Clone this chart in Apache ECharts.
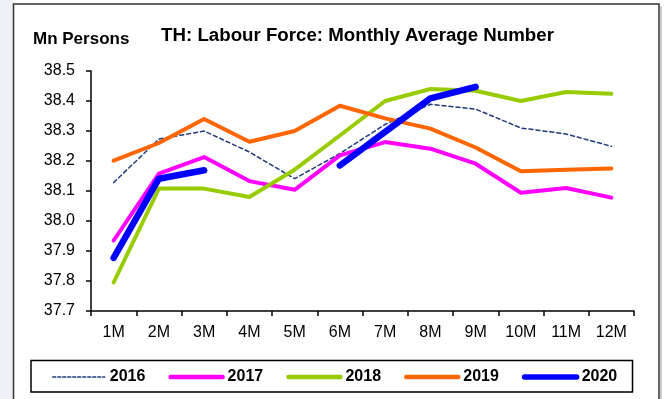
<!DOCTYPE html>
<html>
<head>
<meta charset="utf-8">
<script src="https://cdn.jsdelivr.net/npm/echarts@6/dist/echarts.min.js"></script>
<style>
  html, body { margin: 0; padding: 0; background: #ffffff; }
  #chart { width: 665px; height: 399px; }
</style>
</head>
<body>
<div id="chart"></div>
<script>
// Month categories along the x axis
const months = ['1M', '2M', '3M', '4M', '5M', '6M', '7M', '8M', '9M', '10M', '11M', '12M'];

// Labour force, million persons, by year
const y2016 = [38.128, 38.273, 38.300, 38.230, 38.141, 38.225, 38.322, 38.389, 38.373, 38.310, 38.290, 38.249];
const y2017 = [37.935, 38.158, 38.213, 38.133, 38.104, 38.219, 38.263, 38.241, 38.191, 38.094, 38.110, 38.078];
const y2018 = [37.795, 38.108, 38.108, 38.080, 38.171, 38.285, 38.400, 38.440, 38.434, 38.400, 38.430, 38.424];
const y2019 = [38.201, 38.260, 38.340, 38.264, 38.300, 38.384, 38.342, 38.308, 38.245, 38.166, 38.171, 38.175];
const y2020 = [37.877, 38.141, 38.169, null, null, 38.185, 38.297, 38.409, 38.447, null, null, null];

// Value axis range and step
const yMin = 37.7;
const yMax = 38.5;
const yStep = 0.1;

const FONT = 'Liberation Sans, Arial, sans-serif';

const styles = {
  '2016': { color: '#1F3A78', width: 1.5, dashed: true, legendWidth: 1.5 },
  '2017': { color: '#FF00FF', width: 4, dashed: false, legendWidth: 4.5 },
  '2018': { color: '#99CC00', width: 4, dashed: false, legendWidth: 4.5 },
  '2019': { color: '#FF6600', width: 4, dashed: false, legendWidth: 4.5 },
  '2020': { color: '#0000FF', width: 6.5, dashed: false, legendWidth: 5.5 }
};

function lineStyleFor(name, width) {
  const s = styles[name];
  return {
    color: s.color,
    width: width,
    type: s.dashed ? [4, 3] : 'solid',
    cap: 'round',
    join: 'round'
  };
}

function lineSeries(name, data) {
  return {
    name: name,
    type: 'line',
    data: data,
    symbol: 'none',
    connectNulls: false,
    lineStyle: lineStyleFor(name, styles[name].width),
    itemStyle: { color: styles[name].color },
    emphasis: { disabled: true },
    animation: false
  };
}

const years = ['2016', '2017', '2018', '2019', '2020'];

const chart = echarts.init(document.getElementById('chart'), null, { renderer: 'canvas' });

chart.setOption({
  animation: false,
  backgroundColor: '#ffffff',
  graphic: [
    // pale strip down the left edge
    { type: 'rect', z: -10, shape: { x: 0, y: 0, width: 13, height: 399 }, style: { fill: '#EFEFF7' } },
    // frame around the chart
    { type: 'rect', z: -5, shape: { x: 13.5, y: 4, width: 645.5, height: 420 },
      style: { fill: '#ffffff', stroke: '#333333', lineWidth: 1.5 } },
    { type: 'line', z: -4, shape: { x1: 661, y1: 6, x2: 661, y2: 399 },
      style: { stroke: '#BBBBBB', lineWidth: 1.5 } },
    // legend box
    { type: 'rect', z: 1, shape: { x: 31, y: 360.5, width: 601.5, height: 31.5 },
      style: { fill: 'none', stroke: '#000000', lineWidth: 1.5 } },
    // unit label
    { type: 'text', left: 33, top: 31,
      style: { text: 'Mn Persons', font: 'bold 17px ' + FONT, fill: '#000000' } }
  ],
  title: {
    text: 'TH: Labour Force: Monthly Average Number',
    left: 352.5,
    textAlign: 'center',
    top: 21,
    textStyle: { fontFamily: FONT, fontSize: 18.7, fontWeight: 'bold', color: '#000000' }
  },
  legend: {
    left: 52,
    top: 369,
    padding: 0,
    itemWidth: 52,
    itemHeight: 14,
    itemGap: 23,
    selectedMode: false,
    itemStyle: { opacity: 0, borderWidth: 0 },
    textStyle: { fontFamily: FONT, fontSize: 16, fontWeight: 'bold', color: '#000000' },
    data: years.map(function (y) {
      const ls = lineStyleFor(y, styles[y].legendWidth);
      if (styles[y].dashed) { ls.type = [3, 2]; }
      return { name: y, lineStyle: ls };
    })
  },
  grid: { left: 91, right: 31, top: 71, bottom: 88, containLabel: false },
  xAxis: {
    type: 'category',
    data: months,
    boundaryGap: true,
    axisLine: { show: true, lineStyle: { color: '#000000', width: 1.5 } },
    axisTick: { show: true, alignWithLabel: false, length: 5, lineStyle: { color: '#000000', width: 1.5 } },
    axisLabel: { fontFamily: FONT, fontSize: 16, color: '#000000', margin: 14, interval: 0 },
    splitLine: { show: false }
  },
  yAxis: {
    type: 'value',
    min: yMin,
    max: yMax,
    interval: yStep,
    axisLine: { show: true, lineStyle: { color: '#000000', width: 1.5 } },
    axisTick: { show: true, length: 5, lineStyle: { color: '#000000', width: 1.5 } },
    axisLabel: {
      fontFamily: FONT, fontSize: 16, color: '#000000', margin: 16,
      formatter: function (v) { return v.toFixed(1); }
    },
    splitLine: { show: false }
  },
  series: years.map(function (y, i) {
    return lineSeries(y, [y2016, y2017, y2018, y2019, y2020][i]);
  })
});
</script>
</body>
</html>
